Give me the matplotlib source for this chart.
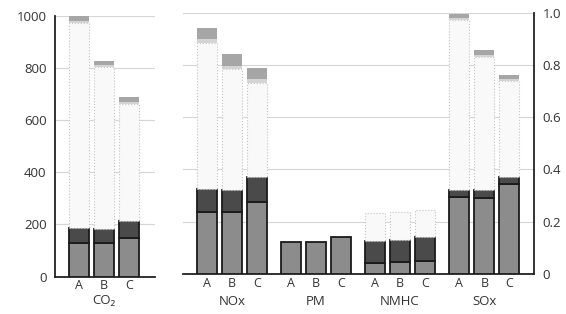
import matplotlib
matplotlib.use("Agg")
import matplotlib.pyplot as plt
import numpy as np

plt.rcParams['font.family'] = ['Open Sans', 'DejaVu Sans']

# bar labels inside each group
cases = ['A', 'B', 'C']

# left panel (CO2, 0-1000 scale): segment heights, bottom to top
co2_label = 'CO₂'
co2_medium = [130, 130, 147]
co2_dark = [56, 53, 66]
co2_light = [786, 621, 450]
co2_cap_lo = [8, 8, 8]
co2_cap_hi = [20, 16, 18]

# right panel (0-1.0 scale)
groups = ['NOx', 'PM', 'NMHC', 'SOx']
medium = [[0.238, 0.238, 0.276], [0.122, 0.122, 0.140],
          [0.042, 0.044, 0.048], [0.294, 0.292, 0.343]]
dark = [[0.087, 0.083, 0.094], [0, 0, 0],
        [0.084, 0.086, 0.094], [0.028, 0.028, 0.028]]
light = [[0.557, 0.462, 0.361], [0, 0, 0],
         [0.108, 0.107, 0.103], [0.648, 0.510, 0.367]]
cap_lo = [[0.016, 0.012, 0.014], [0, 0, 0],
          [0, 0, 0], [0.008, 0.008, 0.008]]
cap_hi = [[0.042, 0.046, 0.044], [0, 0, 0],
          [0, 0, 0], [0.017, 0.017, 0.015]]

left_ticks = [0, 200, 400, 600, 800, 1000]
right_ticks = [0, 0.2, 0.4, 0.6, 0.8, 1.0]


def draw_stack(ax, x, segs):
    # segs: medium, dark, light, cap_lo, cap_hi
    bottom = np.zeros(len(x))
    styles = [
        dict(color='#8c8c8c', edgecolor='#1a1a1a', linewidth=1.3),
        dict(color='#4a4a4a', edgecolor='#1a1a1a', linewidth=1.3),
        dict(color='#f9f9f9', edgecolor='#c4c4c4', linewidth=0.8, linestyle=':'),
        dict(color='#d4d4d4', edgecolor='none', linewidth=0),
        dict(color='#a6a6a6', edgecolor='none', linewidth=0),
    ]
    for vals, st in zip(segs, styles):
        vals = np.array(vals, dtype=float)
        mask = vals > 0
        if mask.any():
            ax.bar(x[mask], vals[mask], width=0.8, bottom=bottom[mask],
                   zorder=3, **st)
        bottom = bottom + vals


def style_axes(ax, side):
    for s in ['top', 'left', 'right']:
        ax.spines[s].set_visible(False)
    ax.spines[side].set_visible(True)
    ax.spines[side].set_linewidth(1.3)
    ax.spines[side].set_color('#222222')
    ax.spines['bottom'].set_linewidth(1.3)
    ax.spines['bottom'].set_color('#222222')
    ax.tick_params(axis='y', length=0, labelsize=9.5, colors='#333333', pad=6)
    ax.tick_params(axis='x', length=0, labelsize=9, colors='#333333', pad=2)
    ax.grid(axis='y', color='#d6d6d6', linewidth=0.8, zorder=0)
    ax.set_axisbelow(True)


fig = plt.figure(figsize=(5.66, 3.14), dpi=100)

# left panel
ax1 = fig.add_axes([55 / 566, 37.5 / 314, 100 / 566, 260.5 / 314])
x1 = np.array([0.96, 1.96, 2.96])
draw_stack(ax1, x1, [co2_medium, co2_dark, co2_light, co2_cap_lo, co2_cap_hi])
ax1.set_xlim(0, 4)
ax1.set_ylim(0, 1000)
ax1.set_yticks(left_ticks)
ax1.set_xticks(x1)
ax1.set_xticklabels(cases)
style_axes(ax1, 'left')
ax1.annotate(co2_label, xy=(x1[1], 0), xycoords=('data', 'axes fraction'),
             xytext=(0, -18), textcoords='offset pixels', ha='center', va='top',
             fontsize=9.5, color='#333333')

# right panel
ax2 = fig.add_axes([183 / 566, 40 / 314, 351 / 566, 261.5 / 314])
starts = [0.95, 4.32, 7.69, 11.06]
xs, labels = [], []
for g, name in enumerate(groups):
    x = starts[g] + np.arange(3)
    draw_stack(ax2, x, [medium[g], dark[g], light[g], cap_lo[g], cap_hi[g]])
    xs.extend(x)
    labels.extend(cases)
    ax2.annotate(name, xy=(x[1], 0), xycoords=('data', 'axes fraction'),
                 xytext=(0, -21), textcoords='offset pixels', ha='center',
                 va='top', fontsize=9.5, color='#333333')
ax2.set_xlim(0, 14.05)
ax2.set_ylim(0, 1.0)
ax2.yaxis.tick_right()
ax2.set_yticks(right_ticks)
ax2.set_yticklabels(['0' if t == 0 else f'{t:.1f}' for t in right_ticks])
ax2.set_xticks(xs)
ax2.set_xticklabels(labels)
style_axes(ax2, 'right')

fig.savefig('out.png', dpi=100)
